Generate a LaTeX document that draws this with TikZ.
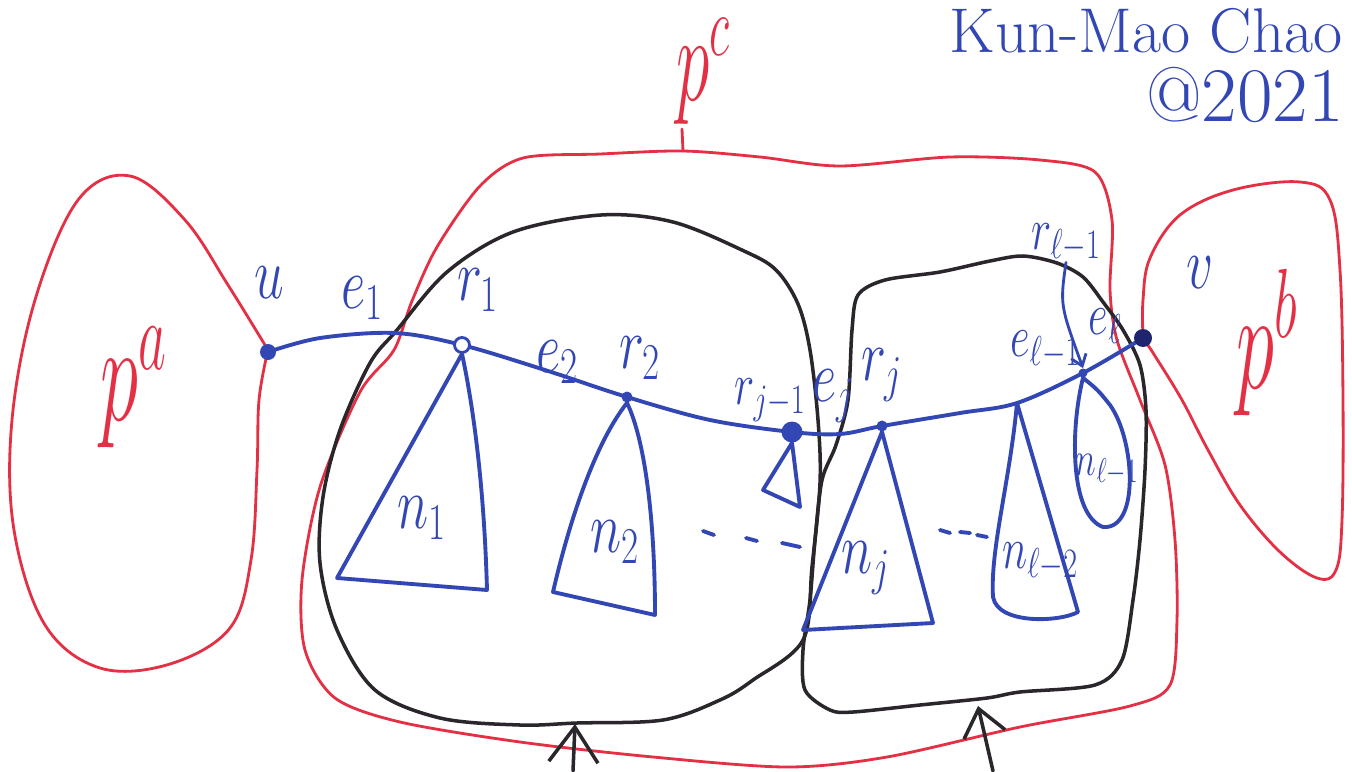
\RequirePackage{fix-cm}
\documentclass[tikz,border=0pt]{standalone}
\usepackage{graphicx}
\usetikzlibrary{arrows.meta}
\definecolor{pen}{RGB}{50,70,180}
\definecolor{redpen}{RGB}{228,48,68}
\definecolor{blk}{RGB}{42,38,44}
\definecolor{navy}{RGB}{30,36,110}
\newcommand{\hw}[1]{\scalebox{0.72}[1]{#1}}
\newcommand{\hp}[1]{\scalebox{0.55}[1]{#1}}
\pgfdeclarelayer{bg}
\pgfsetlayers{bg,main}
\begin{document}
\begin{tikzpicture}[x=0.02cm,y=-0.02cm,
 redline/.style={draw=redpen,line width=1.6pt,line join=round,line cap=round},
 blkline/.style={draw=blk,line width=2pt,line join=round,line cap=round},
 blueline/.style={draw=pen,line width=2.2pt,line join=round,line cap=round},
 bigdot/.style={circle,fill=pen,inner sep=0pt,minimum size=0.32cm},
 smalldot/.style={circle,fill=pen,inner sep=0pt,minimum size=0.22cm},
 ring/.style={circle,draw=pen,fill=white,line width=1.6pt,inner sep=0pt,minimum size=0.3cm},
 lab/.style={text=pen,inner sep=0pt,font=\fontsize{42}{42}\selectfont},
 slab/.style={text=pen,inner sep=0pt,font=\fontsize{34}{34}\selectfont},
 tlab/.style={text=pen,inner sep=0pt,font=\fontsize{28}{28}\selectfont},
 plab/.style={text=redpen,inner sep=0pt,anchor=base west,font=\fontsize{80}{80}\selectfont},
 sig/.style={text=pen,inner sep=0pt,font=\fontsize{36}{36}\selectfont},
]
\useasboundingbox (0,0) rectangle (1352,771);
\begin{pgfonlayer}{bg}
\fill[white] (0,0) rectangle (1352,771);
\end{pgfonlayer}

% vertices on the path
\node[bigdot] (u) at (268,352) {};
\node[ring] (r1) at (462,345) {};
\node[smalldot] (r2) at (627,397) {};
\node[circle,fill=pen,inner sep=0pt,minimum size=0.42cm] (rj1) at (792,432) {};
\node[smalldot] (rj) at (882,426) {};
\coordinate (rl2) at (1017,403);
\node[smalldot,minimum size=0.18cm] (rl1) at (1083,373) {};
\node[bigdot,fill=navy,minimum size=0.36cm] (v) at (1143,338) {};

\begin{pgfonlayer}{bg}
% p^a
\draw[redline] plot[smooth,tension=0.6] coordinates {(268,350) (228,285) (185,220) (130,176) (78,200) (35,300) (12,420) (14,530) (45,625) (100,668) (170,664) (230,628) (251,560) (257,470) (259,400) (268,350)};
% p^b
\draw[redline] plot[smooth,tension=0.6] coordinates {(1143,338) (1143,300) (1150,258) (1180,215) (1233,190) (1300,182) (1330,200) (1340,270) (1343,400) (1342,520) (1336,570) (1317,578) (1280,552) (1240,505) (1208,450) (1182,400) (1155,356) (1143,338)};
% p^c
\draw[redline] plot[smooth cycle,tension=0.5] coordinates {(523,158) (600,154) (683,151) (760,157) (840,166) (950,157) (1040,160) (1095,172) (1112,220) (1110,290) (1117,340) (1140,400) (1165,465) (1175,540) (1177,620) (1170,685) (1130,706) (1020,727) (887,757) (787,767) (653,757) (520,742) (400,722) (335,698) (305,650) (302,580) (320,487) (360,392) (394,350) (412,301) (437,247) (480,186)};
% left black cluster
\draw[blkline] plot[smooth cycle,tension=0.55] coordinates {(397,330) (447,272) (513,232) (601,215) (673,222) (744,251) (776,270) (798,304) (810,350) (818,420) (820,483) (812,567) (803,640) (753,680) (720,700) (663,720) (577,723) (520,725) (440,718) (375,690) (337,630) (320,563) (323,497) (340,430) (370,363)};
% right black cluster
\draw[blkline] plot[smooth cycle,tension=0.5] coordinates {(858,295) (885,280) (940,272) (990,261) (1023,256) (1057,263) (1083,277) (1103,302) (1123,330) (1140,365) (1146,410) (1145,470) (1140,540) (1133,600) (1122,660) (1095,685) (1020,692) (987,698) (920,705) (853,712) (830,710) (805,690) (803,650) (810,600) (815,540) (822,480) (836,445) (848,400) (852,330)};
% the path
\draw[blueline] plot[smooth,tension=0.55] coordinates {(u) (320,338) (395,333) (r1) (545,370) (r2) (710,420) (rj1) (840,434) (rj) (960,413) (rl2) (rl1) (v)};
\end{pgfonlayer}

% subtrees
\draw[blueline] (r1.south) -- (337,578) -- (487,590) .. controls (484,480) and (472,400) .. (r1.south);
\draw[blueline] (r2.south) .. controls (590,450) and (565,540) .. (553,592) -- (655,615) .. controls (655,520) and (645,440) .. (r2.south);
\draw[blueline] (rj1.south) -- (763,490) -- (800,507) -- (rj1.south);
\draw[blueline] (rj.south) -- (803,630) -- (933,623) -- (rj.south);
\draw[blueline] (rl2) .. controls (1010,480) and (990,550) .. (993,597) .. controls (998,625) and (1060,622) .. (1078,612) -- (rl2);
\draw[blueline] (rl1.south) .. controls (1070,430) and (1070,515) .. (1103,527) .. controls (1140,530) and (1135,440) .. (1110,405) .. controls (1098,390) .. (rl1.south);

% dots between subtrees
\draw[blueline] (703,531) -- (714,535) (746,538) -- (757,541) (782,543) -- (800,547);
\draw[blueline] (940,530) -- (950,533) (960,532) -- (970,533) (977,535) -- (987,537);

% labels
\node[lab] (lu) at (269,283) {\hw{$u$}};
\node[lab] (le1) at (362,298) {\hw{$e_1$}};
\node[lab] (lr1) at (478,290) {\hw{$r_1$}};
\node[lab] (le2) at (557,362) {\hw{$e_2$}};
\node[lab] (lr2) at (640,358) {\hw{$r_2$}};
\node[slab] (lrj1) at (770,400) {\hw{$r_{j-1}$}};
\node[lab] (lej) at (833,396) {\hw{$e_j$}};
\node[lab] (lrj) at (882,375) {\hw{$r_j$}};
\node[slab] (lel1) at (1045,350) {\hw{$e_{\ell-1}$}};
\node[slab] (lrl1) at (1066,243) {\hw{$r_{\ell-1}$}};
\node[slab] (lel) at (1105,326) {\hw{$e_{\ell}$}};
\node[lab] (lv) at (1200,273) {\hw{$v$}};
\node[lab] (ln1) at (422,518) {\hw{$n_1$}};
\node[lab] (ln2) at (615,542) {\hw{$n_2$}};
\node[lab] (lnj) at (866,568) {\hw{$n_j$}};
\node[slab] (lnl2) at (1040,562) {\hw{$n_{\ell-2}$}};
\node[tlab] (lnl1) at (1107,470) {\hw{$n_{\ell-1}$}};

\draw[draw=pen,line width=1.6pt,line cap=round,-{Straight Barb[length=6pt,width=9pt]}] (lrl1.south) .. controls (1060,305) .. (rl1.north);

% part labels
\node[plab] (pa) at (100,420) {\hp{$p^{a}$}};
\node[plab] (pb) at (1236,388) {\hp{$p^{b}$}};
\node[plab,font=\fontsize{70}{70}\selectfont] (pc) at (676,100) {\hp{$p^{c}$}};
\coordinate (pcstem) at (682,129);
\coordinate (pctop) at (683,151);
\draw[redline] (pcstem) -- (pctop);

% arrows from below
\coordinate (a1s) at (573,771);
\coordinate (a1e) at (575,724);
\draw[blkline,-{Straight Barb[length=20pt,width=28pt]}] (a1s) -- (a1e);
\coordinate (a2s) at (993,771);
\coordinate (a2e) at (978,706);
\draw[blkline,-{Straight Barb[length=15pt,width=24pt]}] (a2s) -- (a2e);

% signature
\node[sig,anchor=base] (sig1) at (1146,52) {Kun-Mao Chao};
\node[sig,font=\fontsize{44}{44}\selectfont] (sig2) at (1245,95) {@2021};
\end{tikzpicture}
\end{document}
